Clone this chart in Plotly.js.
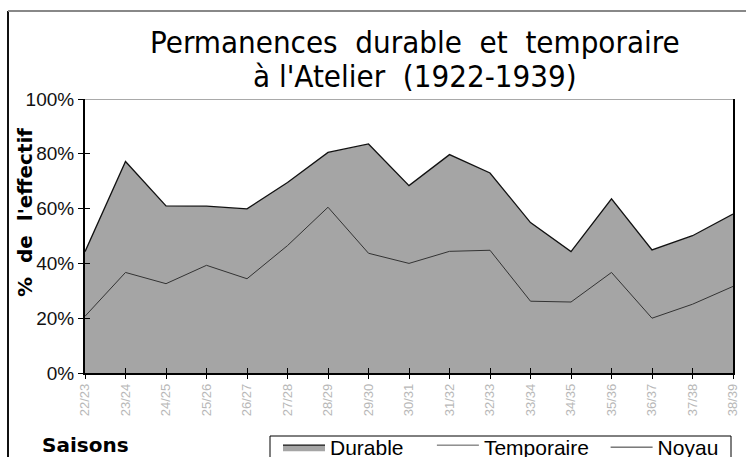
<!DOCTYPE html>
<html>
<head>
<meta charset="utf-8">
<script src="https://cdn.plot.ly/plotly-3.0.1.min.js"></script>
<style>html,body{margin:0;padding:0;background:#fff;}#chart{width:746px;height:457px;}</style>
</head>
<body>
<div id="chart"></div>
<script>
const saisons = ['22/23','23/24','24/25','25/26','26/27','27/28','28/29','29/30','30/31','31/32','32/33','33/34','34/35','35/36','36/37','37/38','38/39'];
const durable = [44.3, 77.2, 61.0, 60.9, 59.9, 69.5, 80.5, 83.6, 68.4, 79.7, 73.0, 54.9, 44.3, 63.6, 44.9, 50.1, 58.0];
const temporaire = [55.7, 22.8, 39.0, 39.1, 40.1, 30.5, 19.5, 16.4, 31.6, 20.3, 27.0, 45.1, 55.7, 36.4, 55.1, 49.9, 42.0];
const noyau = [20.7, 36.7, 32.6, 39.3, 34.4, 46.5, 60.5, 43.7, 40.0, 44.4, 44.8, 26.2, 25.9, 36.7, 20.0, 25.1, 31.6];
const seriesNames = ['Durable\u00A0\u00A0\u00A0\u00A0', 'Temporaire\u00A0\u00A0', 'Noyau'];
const yTicks = [0, 20, 40, 60, 80, 100];
const yTickText = ['0%', '20%', '40%', '60%', '80%', '100%'];

// plot area in pixels (for annotation placement)
const L = 85, R = 733, T = 99, B = 373;
const px = x => (x - L) / (R - L);
const py = y => (B - y) / (B - T);

const traces = [
  {x: saisons, y: durable, name: seriesNames[0], type: 'scatter', mode: 'lines', stackgroup: 'one',
   fillcolor: '#a5a5a5', line: {color: '#111', width: 1.3}},
  {x: saisons, y: temporaire, name: seriesNames[1], type: 'scatter', mode: 'lines', stackgroup: 'one',
   fillcolor: '#ffffff', line: {color: '#555', width: 1}},
  {x: saisons, y: noyau, name: seriesNames[2], type: 'scatter', mode: 'lines',
   line: {color: '#333', width: 1}},
  {x: saisons, y: noyau, xaxis: 'x2', yaxis: 'y2', type: 'scatter', mode: 'none',
   showlegend: false, hoverinfo: 'skip'}
];

const layout = {
  width: 746, height: 457,
  margin: {l: L, r: 746 - R, t: T, b: 457 - B, autoexpand: false},
  paper_bgcolor: '#fff', plot_bgcolor: '#fff',
  showlegend: true,
  xaxis: {type: 'category', range: [0, saisons.length - 1], showgrid: false, zeroline: false,
    showline: true, linecolor: '#000', linewidth: 1.5, ticks: 'outside', ticklen: 4, tickcolor: '#000',
    tickangle: -90, tickfont: {family: 'Liberation Sans', size: 13, color: '#b8b8b8'}},
  yaxis: {range: [0, 100], tickvals: yTicks, ticktext: yTickText, showgrid: false, zeroline: false,
    showline: true, linecolor: '#000', linewidth: 2, mirror: true, ticks: 'outside', ticklen: 5, tickcolor: '#000',
    tickfont: {family: 'Liberation Sans', size: 19, color: '#111'}},
  xaxis2: {overlaying: 'x', matches: 'x', anchor: 'y2', type: 'category', showgrid: false, zeroline: false,
    showline: false, ticks: 'inside', ticklen: 5, tickcolor: '#000', showticklabels: false},
  yaxis2: {overlaying: 'y', matches: 'y', anchor: 'x2', showgrid: false, zeroline: false,
    showline: false, ticks: 'inside', ticklen: 5, tickcolor: '#000', showticklabels: false, tickvals: yTicks},
  legend: {orientation: 'h', traceorder: 'normal', x: px(278), y: py(427), xanchor: 'left', yanchor: 'top',
    borderwidth: 0, bgcolor: 'rgba(0,0,0,0)', itemwidth: 42,
    font: {family: 'Liberation Sans', size: 21, color: '#000'}},
  annotations: [
    {text: 'Permanences  durable  et  temporaire', xref: 'paper', yref: 'paper', x: px(415), y: py(42),
     xanchor: 'center', yanchor: 'middle', showarrow: false,
     font: {family: 'DejaVu Sans Condensed, Liberation Sans', size: 31, color: '#000'}},
    {text: "à l'Atelier  (1922-1939)", xref: 'paper', yref: 'paper', x: px(415), y: py(76),
     xanchor: 'center', yanchor: 'middle', showarrow: false,
     font: {family: 'DejaVu Sans Condensed, Liberation Sans', size: 31, color: '#000'}},
    {text: "%  de  l'effectif", xref: 'paper', yref: 'paper', x: px(25), y: py(213), textangle: -90,
     xanchor: 'center', yanchor: 'middle', showarrow: false,
     font: {family: 'DejaVu Sans', size: 20, weight: 'bold', color: '#000'}},
    {text: 'Saisons', xref: 'paper', yref: 'paper', x: px(40), y: py(445),
     xanchor: 'left', yanchor: 'middle', showarrow: false,
     font: {family: 'DejaVu Sans', size: 20, weight: 'bold', color: '#000'}}
  ],
  shapes: [
    {type: 'line', xref: 'paper', yref: 'paper', x0: px(8), x1: px(8), y0: py(11), y1: py(470),
     line: {color: '#111', width: 2}},
    {type: 'line', xref: 'paper', yref: 'paper', x0: px(8), x1: px(760), y0: py(11), y1: py(11),
     line: {color: '#888', width: 2}},
    {type: 'rect', xref: 'paper', yref: 'paper', x0: px(270), x1: px(731), y0: py(436), y1: py(475),
     line: {color: '#000', width: 1}, fillcolor: '#fff'}
  ]
};

Plotly.newPlot('chart', traces, layout, {displayModeBar: false, staticPlot: true});
</script>
</body>
</html>
